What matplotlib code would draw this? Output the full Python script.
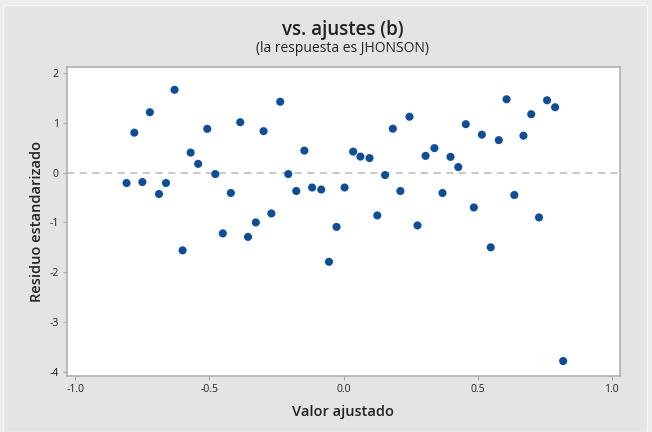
import matplotlib

matplotlib.use("Agg")
import matplotlib.pyplot as plt
from matplotlib.patches import Rectangle

plt.rcParams["font.family"] = ["Open Sans", "DejaVu Sans"]

# fitted values and standardized residuals (response JHONSON)
fitted = [
    -0.809, -0.780, -0.750, -0.722, -0.688, -0.662, -0.630, -0.600, -0.570, -0.542,
    -0.508, -0.478, -0.450, -0.420, -0.385, -0.356, -0.327, -0.298, -0.269, -0.236,
    -0.206, -0.176, -0.146, -0.117, -0.083, -0.054, -0.026, 0.004, 0.036, 0.063,
    0.097, 0.126, 0.155, 0.184, 0.212, 0.246, 0.276, 0.306, 0.339, 0.369,
    0.399, 0.428, 0.456, 0.486, 0.516, 0.549, 0.579, 0.608, 0.637, 0.671,
    0.700, 0.729, 0.759, 0.789, 0.819,
]
std_resid = [
    -0.21, 0.80, -0.19, 1.21, -0.43, -0.21, 1.66, -1.56, 0.40, 0.175,
    0.877, -0.03, -1.22, -0.41, 1.01, -1.29, -1.00, 0.83, -0.82, 1.42,
    -0.03, -0.37, 0.44, -0.30, -0.34, -1.79, -1.09, -0.30, 0.42, 0.32,
    0.29, -0.86, -0.05, 0.88, -0.37, 1.12, -1.06, 0.335, 0.49, -0.41,
    0.315, 0.11, 0.97, -0.70, 0.76, -1.50, 0.65, 1.47, -0.45, 0.74,
    1.17, -0.90, 1.45, 1.31, -3.78,
]
x_ticks = [-1.0, -0.5, 0.0, 0.5, 1.0]
y_ticks = [-4, -3, -2, -1, 0, 1, 2]

W, H = 652, 432
fig = plt.figure(figsize=(W / 100, H / 100), dpi=100)
fig.patch.set_facecolor("#ececec")
# inner panel behind the axes
fig.patches.append(
    Rectangle((3 / W, 0), 644 / W, 1 - 5 / H, transform=fig.transFigure,
              facecolor="#e4e4e4", edgecolor="#f6f6f6", linewidth=1.0, zorder=-5)
)

ax = fig.add_axes([67 / W, 56 / H, 553 / W, 309 / H], zorder=2)
ax.set_facecolor("white")

ax.axhline(0, color="#c4c4c4", linestyle=(0, (4, 3)), linewidth=1.3, zorder=1)
ax.scatter(fitted, std_resid, s=34, color="#0b4f9c", edgecolors="none", zorder=3)

ax.set_xlim(-1.031, 1.031)
ax.set_ylim(-4.08, 2.117)
ax.set_xticks(x_ticks)
ax.set_xticklabels([f"{t:.1f}" for t in x_ticks])
ax.set_yticks(y_ticks)
ax.set_yticklabels([str(t) for t in y_ticks])
ax.tick_params(axis="both", length=3, width=0.8, color="#a8a8a8",
               labelsize=7.5, labelcolor="#222222", pad=3)

for side in ax.spines.values():
    side.set_color("#b0b0b0")
    side.set_linewidth(1.2)

ax.set_xlabel("Valor ajustado", fontsize=10.5, fontweight="semibold",
              color="#222222", labelpad=7)
ax.set_ylabel("Residuo estandarizado", fontsize=10.5, fontweight="semibold",
              color="#222222", labelpad=4)

fig.text(343 / W, 1 - 30 / H, "vs. ajustes (b)", ha="center", va="center",
         fontsize=13.5, fontweight="semibold", color="#222222")
fig.text(343 / W, 1 - 48 / H, "(la respuesta es JHONSON)", ha="center",
         va="center", fontsize=10, color="#222222")

fig.savefig("out.png", dpi=100, facecolor=fig.get_facecolor())
